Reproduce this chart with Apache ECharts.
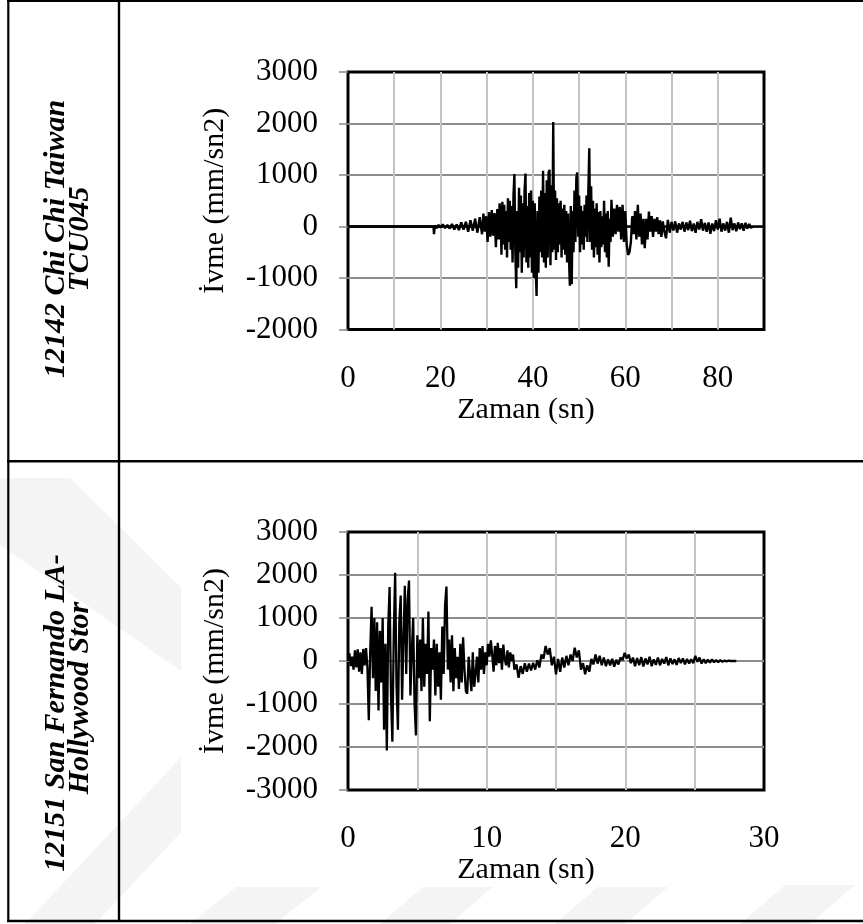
<!DOCTYPE html>
<html>
<head>
<meta charset="utf-8">
<script src="https://cdn.jsdelivr.net/npm/echarts@6/dist/echarts.min.js"></script>
<style>
html,body{margin:0;padding:0;background:#fff;}
#c{width:863px;height:924px;}
</style>
</head>
<body>
<div id="c"></div>
<script>
// ---------- DATA ----------
const rowTitle1 = ['12142 Chi Chi Taiwan', 'TCU045'];
const rowTitle2 = ['12151 San Fernando LA-', 'Hollywood Stor'];
const yAxisTitle = 'İvme (mm/sn2)';
const xAxisTitle = 'Zaman (sn)';

const xLabels1 = [0, 20, 40, 60, 80];
const yTicks1 = [-2000, -1000, 0, 1000, 2000, 3000];
const xLabels2 = [0, 10, 20, 30];
const yTicks2 = [-3000, -2000, -1000, 0, 1000, 2000, 3000];

// 12142 Chi Chi Taiwan TCU045 : time (s)
const chiT = [0,18.5,18.6,18.8,19.2,19.6,20.0,20.5,21.0,21.5,22.0,22.5,23.0,23.5,24.0,24.5,25.0,25.5,26.0,26.5,27.0,27.5,28.0,28.5,29.0,29.3,29.6,29.9,30.2,30.5,30.8,31.1,31.4,31.7,32.0,32.3,32.6,32.8,
33.0,33.2,33.4,33.6,33.8,34.0,34.2,34.4,34.6,34.8,35.0,35.2,35.4,35.6,35.8,36.0,36.2,36.4,36.6,36.8,37.0,37.2,37.4,37.6,37.8,38.0,38.2,38.4,38.6,38.8,39.0,39.2,39.4,39.6,39.8,40.0,40.2,40.4,40.6,40.8,41.0,41.2,41.4,41.6,41.8,42.0,42.2,42.4,42.6,42.8,43.0,43.2,43.4,43.6,43.8,44.0,44.2,44.4,44.6,44.8,45.0,45.2,45.4,45.6,45.8,46.0,46.2,46.4,46.6,46.8,47.0,47.2,47.4,47.6,47.8,48.0,48.2,48.4,48.6,48.8,49.0,49.2,49.4,49.6,49.8,50.0,50.2,50.4,50.6,50.8,51.0,51.2,51.4,51.6,51.8,52.0,52.2,52.4,52.6,52.8,53.0,53.2,53.4,53.6,53.8,54.0,54.2,54.4,54.6,54.8,55.0,55.2,55.4,55.6,55.8,56.0,56.2,56.4,56.6,56.8,57.0,
57.3,57.6,57.9,58.2,58.5,58.8,59.1,59.4,59.7,60.0,60.3,60.6,60.9,61.2,61.5,61.8,62.1,62.4,62.7,63.0,63.3,63.6,63.9,64.2,64.5,64.8,65.1,65.4,65.7,66.0,66.3,66.6,66.9,67.2,67.5,67.8,68.1,68.4,68.8,69.2,
69.6,70.0,70.4,70.8,71.2,71.6,72.0,72.4,72.8,73.2,73.6,74.0,74.4,74.8,75.2,75.6,76.0,76.4,76.8,77.2,77.6,78.0,78.4,78.8,79.2,79.6,80.0,80.4,80.8,81.2,81.6,82.0,82.4,82.8,83.2,83.6,84.0,84.4,84.8,85.2,85.6,86.0,86.4,86.8,87.2,87.5];
// acceleration (mm/sn2)
const chiA = [0,0,-150,20,-30,30,-20,40,-30,30,-40,50,-60,40,-70,80,-60,90,-100,120,-80,150,-120,180,-150,250,-100,200,-300,280,-200,320,-180,260,-400,340,-250,450,
300,-550,480,-350,420,-450,300,-600,550,-300,500,-450,400,-700,600,1020,-500,-1200,300,-800,750,-500,600,-900,450,-600,700,1030,-700,400,-800,650,-600,700,-900,500,-1000,450,-800,-1350,300,-900,580,-500,700,-600,1080,-700,650,-800,900,-600,1050,1100,-750,800,-500,2030,-450,700,-650,550,-500,450,-350,500,-600,350,-450,420,-550,300,-700,250,-600,-1150,400,-1120,300,-500,700,-300,950,1050,-200,600,-500,400,-350,300,-450,420,-200,600,-300,700,1520,-300,780,-450,500,-600,350,-400,450,-550,280,-700,300,-400,200,-350,500,-500,250,-600,300,-780,150,-300,520,
-200,350,-150,420,-100,380,-250,420,-300,300,-350,-550,-500,-300,200,-150,300,-250,420,-200,250,-350,150,-420,150,-250,290,-100,200,-200,150,-100,180,-150,120,-200,100,-80,-230,130,
-120,90,-80,100,-120,60,-60,90,-100,80,-70,110,-90,60,-120,90,-60,140,-80,70,-100,80,-140,60,-90,120,-60,150,-100,60,-80,90,-120,170,-70,60,-90,80,-50,60,-80,70,-40,50,-30,0];

// 12151 San Fernando LA-Hollywood Stor : time (s)
const sfT = [0.0,0.1,0.2,0.3,0.4,0.5,0.6,0.7,0.8,0.9,1.0,1.1,1.2,1.3,1.4,1.5,1.6,1.7,1.8,1.9,2.0,2.1,2.2,2.3,2.4,2.5,2.6,2.7,2.8,2.9,3.0,3.1,3.2,3.3,3.4,3.5,3.6,3.7,3.8,3.9,4.0,4.1,4.2,4.3,4.4,4.5,4.6,4.7,4.8,4.9,5.0,5.1,5.2,5.3,5.4,5.5,5.6,5.7,5.8,5.9,6.0,6.1,6.2,6.3,6.4,6.5,6.6,6.7,6.8,6.9,7.0,7.1,7.2,7.3,7.4,7.5,7.6,7.7,7.8,7.9,8.0,8.1,8.2,8.3,8.4,8.5,8.6,8.7,8.8,8.9,9.0,9.1,9.2,9.3,9.4,9.5,9.6,9.7,9.8,9.9,10.0,10.1,10.2,10.3,10.4,10.5,10.6,10.7,10.8,10.9,11.0,11.1,11.2,11.3,11.4,11.5,11.6,11.7,11.8,11.9,
12.00,12.15,12.30,12.45,12.60,12.75,12.90,13.05,13.20,13.35,13.50,13.65,13.80,13.95,14.10,14.25,14.40,14.55,14.70,14.85,15.00,15.15,15.30,15.45,15.60,15.75,15.90,16.05,16.20,16.35,16.50,16.65,16.80,16.95,17.10,17.25,17.40,17.55,17.70,17.85,18.00,18.15,18.30,18.45,18.60,18.75,18.90,19.05,19.20,19.35,19.50,19.65,19.80,19.95,20.10,20.25,20.40,20.55,20.70,20.85,21.00,21.15,21.30,21.45,21.60,21.75,21.90,22.05,22.20,22.35,22.50,22.65,22.80,22.95,23.10,23.25,23.40,23.55,23.70,23.85,24.00,24.15,24.30,24.45,24.60,24.75,24.90,25.05,25.20,25.35,25.50,25.65,25.80,25.95,26.10,26.25,26.40,26.55,26.70,26.85,27.00,27.15,27.30,27.45,27.60,28.00];
// acceleration (mm/sn2)
const sfA = [0,180,-120,100,-200,250,-150,270,-250,200,-300,280,-100,300,-150,-1380,200,1260,-400,1000,-700,900,-1150,700,-500,1000,-1600,400,-2080,800,1720,-800,-1880,600,2050,-600,-1600,900,1520,-900,500,1750,-300,1400,1870,-800,200,1000,-1000,-1730,600,-400,500,-700,1000,-600,400,-300,1150,-1400,300,-200,500,-800,400,-600,200,-900,800,-300,1300,1730,-200,500,-500,600,-700,300,-400,100,-650,400,-500,550,-200,-700,-760,100,-300,-700,200,-600,-300,100,-500,300,-200,350,-300,200,-100,400,100,480,150,-250,350,-100,420,-50,300,-200,380,50,-100,250,-150,200,0,150,
-200,-80,-390,-120,-300,-50,-250,-60,-220,-40,-200,20,-150,150,50,350,150,300,-100,100,-310,50,-250,80,-150,120,-100,150,0,310,80,250,-200,-50,-310,-100,-250,50,-80,150,-60,120,-100,80,-120,40,-100,50,-130,30,-80,80,20,190,60,150,-50,80,-120,70,-100,90,-130,60,-80,100,-120,40,-90,80,-100,50,-60,90,-100,60,-70,40,-90,70,-50,60,-80,50,-60,40,-50,120,-20,80,-60,40,-50,30,-40,40,-30,20,-30,20,-20,10,-10,10,0,0];

// ---------- CHART ----------
const zip = (t, a) => t.map((v, i) => [v, a[i]]);
const FONT = 'Liberation Serif, Times New Roman, serif';
const chart = echarts.init(document.getElementById('c'), null, {renderer: 'canvas'});

function xAxisCfg(gridIndex, max, interval, labels) {
  return {
    type: 'value', gridIndex, min: 0, max, interval, position: 'bottom',
    axisLine: {show: false, onZero: false},
    axisTick: {show: false},
    axisLabel: {
      margin: 33.5, color: '#000', fontFamily: FONT, fontSize: 31,
      showMinLabel: true, showMaxLabel: true,
      formatter: v => labels.indexOf(v) >= 0 ? String(v) : ''
    },
    splitLine: {show: true, showMinLine: false, showMaxLine: false, lineStyle: {color: '#c4c4c4', width: 2}},
    name: xAxisTitle, nameLocation: 'middle', nameGap: 65,
    nameTextStyle: {color: '#000', fontFamily: FONT, fontSize: 30, padding: [0, 60, 0, 0]}
  };
}
function yAxisCfg(gridIndex, ticks) {
  return {
    type: 'value', gridIndex, min: ticks[0], max: ticks[ticks.length - 1], interval: 1000,
    axisLine: {show: false},
    axisTick: {show: true, inside: false, length: 9, lineStyle: {color: '#888', width: 1.5}},
    axisLabel: {margin: 30, color: '#000', fontFamily: FONT, fontSize: 31, formatter: v => String(v)},
    splitLine: {show: true, showMinLine: false, showMaxLine: false, lineStyle: {color: '#8c8c8c', width: 2}},
    name: yAxisTitle, nameLocation: 'middle', nameGap: 118, nameRotate: 90,
    nameTextStyle: {color: '#000', fontFamily: FONT, fontSize: 30}
  };
}

function rowText(txt, x, y) {
  return {type: 'text', z: 10, silent: true, x, y, rotation: Math.PI / 2,
    style: {text: txt, align: 'center', verticalAlign: 'middle', fill: '#000',
            font: 'italic bold 30px Liberation Serif'}};
}

const wm = '#f4f4f4';
const option = {
  backgroundColor: '#fff',
  animation: false,
  graphic: [
    // faint watermark chevrons (background decoration)
    {type: 'polygon', z: -10, silent: true, shape: {points: [[0,478],[70,478],[300,705],[95,924],[25,924],[230,705],[0,545]]}, style: {fill: wm}},
    {type: 'polygon', z: -10, silent: true, shape: {points: [[190,924],[245,880],[330,880],[275,924]]}, style: {fill: wm}},
    {type: 'polygon', z: -10, silent: true, shape: {points: [[380,924],[425,885],[495,885],[450,924]]}, style: {fill: wm}},
    {type: 'polygon', z: -10, silent: true, shape: {points: [[555,924],[600,885],[670,885],[625,924]]}, style: {fill: wm}},
    {type: 'polygon', z: -10, silent: true, shape: {points: [[740,924],[785,885],[855,885],[810,924]]}, style: {fill: wm}},
    // white chart area over watermark (row 2)
    {type: 'rect', z: -9, silent: true, shape: {x: 181, y: 470, width: 590, height: 417}, style: {fill: '#fff'}},
    // table rules
    {type: 'line', z: 10, silent: true, shape: {x1: 7, y1: 1, x2: 863, y2: 1}, style: {stroke: '#000', lineWidth: 2}},
    {type: 'line', z: 10, silent: true, shape: {x1: 8.3, y1: 0, x2: 8.3, y2: 922}, style: {stroke: '#000', lineWidth: 2.2}},
    {type: 'line', z: 10, silent: true, shape: {x1: 119, y1: 0, x2: 119, y2: 922}, style: {stroke: '#000', lineWidth: 2.4}},
    {type: 'line', z: 10, silent: true, shape: {x1: 7, y1: 461.2, x2: 863, y2: 461.2}, style: {stroke: '#000', lineWidth: 2.5}},
    {type: 'line', z: 10, silent: true, shape: {x1: 7, y1: 921, x2: 863, y2: 921}, style: {stroke: '#000', lineWidth: 2.5}},
    // row titles (rotated, one element per line)
    rowText(rowTitle1[0], 56.5, 239),
    rowText(rowTitle1[1], 80.5, 239),
    rowText(rowTitle2[0], 56.5, 713),
    rowText(rowTitle2[1], 80.5, 698)
  ],
  grid: [
    {left: 348, top: 72, width: 416, height: 257.5, show: true, borderColor: '#000', borderWidth: 3, backgroundColor: 'transparent'},
    {left: 348, top: 532, width: 416, height: 258, show: true, borderColor: '#000', borderWidth: 3, backgroundColor: 'transparent'}
  ],
  xAxis: [xAxisCfg(0, 90, 10, xLabels1), xAxisCfg(1, 30, 5, xLabels2)],
  yAxis: [yAxisCfg(0, yTicks1), yAxisCfg(1, yTicks2)],
  series: [
    {type: 'line', xAxisIndex: 0, yAxisIndex: 0, data: zip(chiT, chiA), showSymbol: false, symbol: 'none',
     lineStyle: {color: '#000', width: 2.4}, z: 5,
     markLine: {silent: true, symbol: 'none', label: {show: false},
                lineStyle: {color: '#000', width: 2.5, type: 'solid'}, data: [{yAxis: 0}]}},
    {type: 'line', xAxisIndex: 1, yAxisIndex: 1, data: zip(sfT, sfA), showSymbol: false, symbol: 'none',
     lineStyle: {color: '#000', width: 2.3}, z: 5}
  ]
};
chart.setOption(option);
</script>
</body>
</html>
